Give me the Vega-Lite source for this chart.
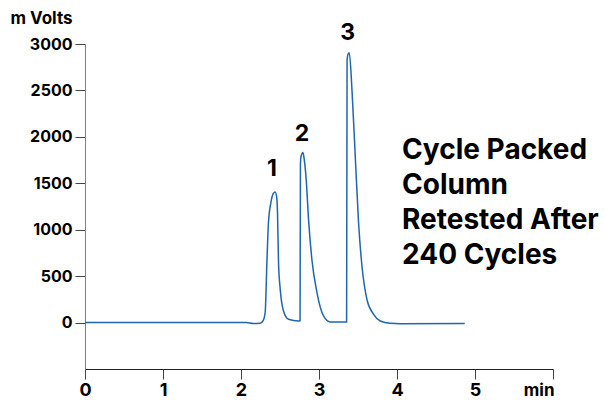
{
  "$schema": "https://vega.github.io/schema/vega-lite/v6.json",
  "width": 468,
  "height": 325,
  "autosize": {"type": "none"},
  "padding": {"left": 85, "top": 44, "right": 52, "bottom": 31},
  "background": "white",
  "config": {
    "view": {"stroke": null},
    "font": "Inter",
    "axis": {"grid": false, "labelFont": "Inter", "labelFontWeight": "bold", "labelColor": "black", "titleFont": "Inter", "titleFontWeight": "bold", "titleColor": "black"}
  },
  "datasets": {
    "trace": [
      {"min": 0, "mv": 0},
      {"min": 2.066, "mv": 0},
      {"min": 2.16, "mv": -11},
      {"min": 2.246, "mv": -8},
      {"min": 2.284, "mv": 20},
      {"min": 2.31, "mv": 111},
      {"min": 2.332, "mv": 646},
      {"min": 2.352, "mv": 1077},
      {"min": 2.383, "mv": 1292},
      {"min": 2.413, "mv": 1389},
      {"min": 2.438, "mv": 1407},
      {"min": 2.458, "mv": 1345},
      {"min": 2.468, "mv": 1184},
      {"min": 2.481, "mv": 646},
      {"min": 2.503, "mv": 358},
      {"min": 2.545, "mv": 124},
      {"min": 2.609, "mv": 35},
      {"min": 2.737, "mv": 17},
      {"min": 2.757, "mv": 20},
      {"min": 2.762, "mv": 1700},
      {"min": 2.769, "mv": 1786},
      {"min": 2.794, "mv": 1832},
      {"min": 2.811, "mv": 1754},
      {"min": 2.836, "mv": 1539},
      {"min": 2.866, "mv": 1109},
      {"min": 2.909, "mv": 678},
      {"min": 2.974, "mv": 323},
      {"min": 3.058, "mv": 71},
      {"min": 3.144, "mv": 6},
      {"min": 3.354, "mv": 6},
      {"min": 3.36, "mv": 2826},
      {"min": 3.372, "mv": 2890},
      {"min": 3.388, "mv": 2905},
      {"min": 3.423, "mv": 2503},
      {"min": 3.465, "mv": 1786},
      {"min": 3.507, "mv": 1077},
      {"min": 3.551, "mv": 607},
      {"min": 3.615, "mv": 248},
      {"min": 3.7, "mv": 89},
      {"min": 3.786, "mv": 17},
      {"min": 3.914, "mv": -8},
      {"min": 4.043, "mv": -13},
      {"min": 4.868, "mv": -10}
    ],
    "peaks": [
      {"min": 2.396, "mv": 1650, "label": "1"},
      {"min": 2.781, "mv": 2026, "label": "2"},
      {"min": 3.366, "mv": 3120, "label": "3"}
    ],
    "note": [
      {"min": 4.064, "mv": 1846, "line": "Cycle Packed"},
      {"min": 4.064, "mv": 1470, "line": "Column"},
      {"min": 4.064, "mv": 1093, "line": "Retested After"},
      {"min": 4.064, "mv": 717, "line": "240 Cycles"}
    ]
  },
  "encoding": {
    "x": {
      "field": "min", "type": "quantitative",
      "scale": {"domain": [0, 6], "nice": false, "zero": false},
      "axis": {
        "values": [0, 1, 2, 3, 4, 5, 6],
        "labelExpr": "datum.value == 6 ? '' : datum.label",
        "labelFontSize": 18, "labelPadding": 2, "labelFlush": false,
        "domainColor": "#222", "tickColor": "#444", "tickSize": 10,
        "title": "min", "titleFontSize": 17, "titleX": 469, "titleY": 26,
        "titleAlign": "right", "titleBaseline": "alphabetic", "titleAnchor": null
      }
    },
    "y": {
      "field": "mv", "type": "quantitative",
      "scale": {"domain": [-500, 3000], "nice": false, "zero": false},
      "axis": {
        "values": [0, 500, 1000, 1500, 2000, 2500, 3000],
        "format": "d",
        "labelFontSize": 16, "labelPadding": 3,
        "domainColor": "#808080", "tickColor": "#444", "tickSize": 10,
        "title": "m Volts", "titleFontSize": 17, "titleAngle": 0,
        "titleX": -75, "titleY": -26, "titleAlign": "left", "titleBaseline": "middle", "titleAnchor": null
      }
    }
  },
  "layer": [
    {
      "data": {"name": "trace"},
      "mark": {"type": "line", "interpolate": "monotone", "color": "#1f66b1", "strokeWidth": 1.5}
    },
    {
      "data": {"name": "peaks"},
      "mark": {"type": "text", "fontSize": 23, "fontWeight": "bold", "color": "black", "align": "center", "baseline": "middle"},
      "encoding": {"text": {"field": "label"}}
    },
    {
      "data": {"name": "note"},
      "mark": {"type": "text", "fontSize": 28, "fontWeight": "bold", "color": "black", "align": "left", "baseline": "middle"},
      "encoding": {"text": {"field": "line"}}
    }
  ]
}
